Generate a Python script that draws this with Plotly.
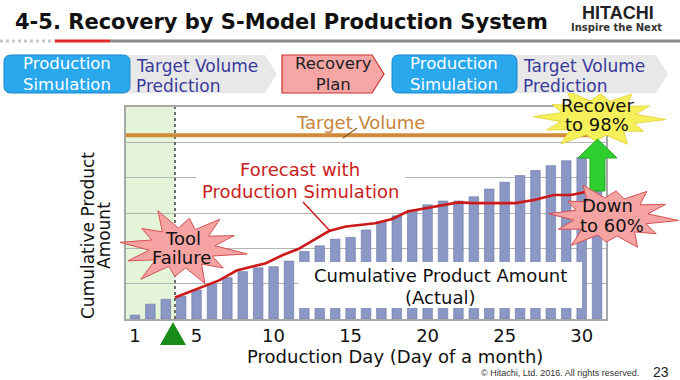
import math
import plotly.graph_objects as go

# ---------------- data ----------------
days = list(range(1, 32))
actual = [0.11, 0.42, 0.56, 0.65, 0.82, 0.98, 1.17, 1.34, 1.45, 1.48, 1.64,
          1.91, 2.07, 2.26, 2.31, 2.52, 2.76, 2.92, 3.08, 3.23, 3.34, 3.34,
          3.46, 3.68, 3.87, 4.06, 4.20, 4.34, 4.48, 4.57, 4.72]
forecast_days = [3.6, 4.8, 6.5, 7.6, 9.5, 10.6, 11.6, 13.6, 14.7, 16.6, 17.7,
                 18.7, 19.8, 20.9, 22.0, 23.0, 25.7, 26.9, 28.2, 29.3, 30.4]
forecast = [0.61, 0.82, 1.10, 1.37, 1.58, 1.81, 1.98, 2.49, 2.62, 2.71, 2.83,
            3.04, 3.13, 3.23, 3.30, 3.28, 3.28, 3.37, 3.51, 3.51, 3.61]
target_volume = 5.2
failure_day = 3.6
tick_days = [1, 5, 10, 15, 20, 25, 30]
tick_labels = ["1", "5", "10", "15", "20", "25", "30"]

# ---------------- geometry helpers ----------------
W, H = 680, 380
L, R, T, B = 126, 606, 107, 319
FONT = "DejaVu Sans"


def px(x):
    return (x - L) / (R - L)


def py(y):
    return (B - y) / (B - T)


def poly(points):
    return "M " + " L ".join(f"{px(x):.4f},{py(y):.4f}" for x, y in points) + " Z"


def rrect(x0, y0, x1, y1, r):
    P = lambda x, y: f"{px(x):.4f},{py(y):.4f}"
    return (f"M {P(x0 + r, y0)} L {P(x1 - r, y0)} Q {P(x1, y0)} {P(x1, y0 + r)} "
            f"L {P(x1, y1 - r)} Q {P(x1, y1)} {P(x1 - r, y1)} "
            f"L {P(x0 + r, y1)} Q {P(x0, y1)} {P(x0, y1 - r)} "
            f"L {P(x0, y0 + r)} Q {P(x0, y0)} {P(x0 + r, y0)} Z")


def star(cx, cy, rx, ry, mults, inner=0.5, start=0.0):
    n = len(mults)
    pts = []
    for i in range(2 * n):
        a = start + math.pi * i / n
        r = mults[i // 2] if i % 2 == 0 else inner
        pts.append((cx + rx * r * math.cos(a), cy + ry * r * math.sin(a)))
    return pts


fig = go.Figure()

fig.add_trace(go.Bar(
    x=days, y=actual, width=0.62,
    marker=dict(color="#8b97c4", line=dict(color="#6a76a4", width=0.6)),
    hoverinfo="skip"))

fig.add_trace(go.Scatter(
    x=forecast_days, y=forecast, mode="lines",
    line=dict(color="#cc1a1a", width=2.6), hoverinfo="skip"))

shapes = []
# failure shaded region (below gridlines)
shapes.append(dict(type="rect", xref="x", yref="paper", x0=0.42, x1=failure_day,
                   y0=0, y1=1, fillcolor="#e3f4d8", line=dict(width=0), layer="below"))
# dotted failure line
shapes.append(dict(type="line", xref="x", yref="paper", x0=failure_day, x1=failure_day,
                   y0=0, y1=1, line=dict(color="#333333", width=1.4, dash="dot"), layer="above"))
# target volume line
shapes.append(dict(type="line", xref="paper", yref="y", x0=0, x1=px(594),
                   y0=target_volume, y1=target_volume,
                   line=dict(color="#d08a3a", width=4), layer="above"))
# pointer target
shapes.append(dict(type="line", xref="paper", yref="paper", x0=px(357), y0=py(128),
                   x1=px(343), y1=py(138), line=dict(color="#8a5a20", width=1.2), layer="above"))
# white box behind forecast text
shapes.append(dict(type="rect", xref="paper", yref="paper", x0=px(196), x1=px(405),
                   y0=py(200), y1=py(157), fillcolor="white", line=dict(width=0), layer="above"))
# pointer forecast
shapes.append(dict(type="line", xref="paper", yref="paper", x0=px(303), y0=py(202),
                   x1=px(330), y1=py(231), line=dict(color="#cc1a1a", width=1.5), layer="above"))
# white box actual label
shapes.append(dict(type="rect", xref="paper", yref="paper", x0=px(298), x1=px(582),
                   y0=py(308), y1=py(262), fillcolor="white", line=dict(width=0), layer="above"))
# tool failure star
shapes.append(dict(type="path", xref="paper", yref="paper",
                   path=poly(star(182, 248, 66, 40,
                                  [1.0, 0.8, 0.95, 0.72, 1.0, 0.88, 0.95, 0.78, 1.0, 0.75, 0.92, 0.85],
                                  inner=0.5, start=0.15)),
                   fillcolor="#f6a3a3", line=dict(color="#d65050", width=1), layer="above"))
# recover star (yellow)
shapes.append(dict(type="path", xref="paper", yref="paper",
                   path=poly(star(598, 118, 68, 31,
                                  [1.0, 0.8, 0.95, 0.75, 1.0, 0.85, 0.95, 0.8, 1.0, 0.78, 0.92, 0.85],
                                  inner=0.56, start=0.05)),
                   fillcolor="#f6f05a", line=dict(color="#e8d840", width=1), layer="above"))
# green arrow
shapes.append(dict(type="path", xref="paper", yref="paper",
                   path=poly([(590, 191), (605, 191), (605, 158), (617, 158),
                              (597.5, 139), (578, 158), (590, 158)]),
                   fillcolor="#2fcf2f", line=dict(color="#22aa22", width=1), layer="above"))
# down star (pink)
shapes.append(dict(type="path", xref="paper", yref="paper",
                   path=poly(star(611, 217, 68, 35,
                                  [1.0, 0.82, 0.95, 0.72, 1.0, 0.85, 0.92, 0.78, 1.0, 0.75, 0.9, 0.88],
                                  inner=0.55, start=0.1)),
                   fillcolor="#f6a3a3", line=dict(color="#d65050", width=1), layer="above"))
# green triangle marker
shapes.append(dict(type="path", xref="paper", yref="paper",
                   path=poly([(173, 322), (186, 345), (160, 345)]),
                   fillcolor="#1a8c1a", line=dict(width=0), layer="above"))

# header underline
shapes.append(dict(type="line", xref="paper", yref="paper", x0=px(0), x1=px(55),
                   y0=py(41), y1=py(41), line=dict(color="#c8c8c8", width=3, dash="dot")))
shapes.append(dict(type="line", xref="paper", yref="paper", x0=px(110), x1=px(680),
                   y0=py(41), y1=py(41), line=dict(color="#8c8c8c", width=3)))
shapes.append(dict(type="line", xref="paper", yref="paper", x0=px(55), x1=px(110),
                   y0=py(41), y1=py(41), line=dict(color="#e02a2a", width=3)))

# flow row
shapes.append(dict(type="path", xref="paper", yref="paper",
                   path=poly([(120, 55), (265, 55), (277, 74), (265, 93), (120, 93)]),
                   fillcolor="#e8e8e8", line=dict(width=0)))
shapes.append(dict(type="path", xref="paper", yref="paper",
                   path=poly([(510, 55), (656, 55), (668, 74), (656, 93), (510, 93)]),
                   fillcolor="#e8e8e8", line=dict(width=0)))
shapes.append(dict(type="path", xref="paper", yref="paper",
                   path=poly([(282, 55), (372, 55), (384, 74), (372, 93), (282, 93)]),
                   fillcolor="#f7a6a6", line=dict(color="#c83030", width=1.2)))
shapes.append(dict(type="path", xref="paper", yref="paper", path=rrect(4, 55, 130, 93, 7),
                   fillcolor="#2aa8ee", line=dict(color="#1b86c8", width=1)))
shapes.append(dict(type="path", xref="paper", yref="paper", path=rrect(392, 55, 517, 93, 7),
                   fillcolor="#2aa8ee", line=dict(color="#1b86c8", width=1)))

fig.update_layout(shapes=shapes)


def txt(s, x, y, size, color="#111111", anchor="center", family=FONT, angle=0):
    fig.add_annotation(text=s, x=px(x), y=py(y), xref="paper", yref="paper",
                       xanchor=anchor, yanchor="middle", showarrow=False,
                       textangle=angle, borderpad=0,
                       font=dict(family=family, size=size, color=color))


# header
txt("<b>4-5. Recovery by S-Model Production System</b>", 14, 22, 21, "#111111", "left")
txt("<b>HITACHI</b>", 618, 13, 18, "#222222", family="Liberation Sans")
txt("<b>Inspire the Next</b>", 616, 28, 10, "#333333")

# flow texts
txt("Production<br>Simulation", 67, 74, 16.5, "white")
txt("Target Volume", 135, 66, 17, "#3a3a9c", "left")
txt("Prediction", 135, 86, 17, "#3a3a9c", "left")
txt("Recovery<br>Plan", 333, 74, 16.5, "#222222")
txt("Production<br>Simulation", 454, 74, 16.5, "white")
txt("Target Volume", 522, 66, 17, "#3a3a9c", "left")
txt("Prediction", 522, 86, 17, "#3a3a9c", "left")

# chart labels
txt("Target Volume", 360, 122, 18, "#c8843a")
txt("Forecast with", 300, 169, 18, "#cc2020")
txt("Production Simulation", 300, 191, 18, "#cc2020")
txt("Cumulative Product Amount", 440, 275, 18, "#111111")
txt("(Actual)", 440, 297, 18, "#111111")
txt("Tool", 183, 238, 18, "#111111")
txt("Failure", 181, 257, 18, "#111111")
txt("Recover", 597, 106, 18, "#111111")
txt("to 98%", 597, 124, 18, "#111111")
txt("Down", 607, 205, 18, "#111111")
txt("to 60%", 612, 225, 18, "#111111")

# axis titles
txt("Cumulative Product", 88, 236, 17, "#111111", angle=-90)
txt("Amount", 104, 236, 17, "#111111", angle=-90)
txt("Production Day (Day of a month)", 395, 356, 18, "#111111")

# footer
txt("© Hitachi, Ltd. 2016. All rights reserved.", 640, 373, 9, "#333333", "right",
    family="Liberation Sans")
txt("23", 661, 372, 14, "#222222", family="Liberation Sans")

fig.update_layout(
    width=W, height=H,
    margin=dict(l=L, r=W - R, t=T, b=H - B, pad=0),
    paper_bgcolor="white", plot_bgcolor="white",
    showlegend=False,
    xaxis=dict(range=[0.42, 31.58], tickvals=tick_days, ticktext=tick_labels,
               showgrid=False, zeroline=False, showline=True, linecolor="#a8a8a8",
               linewidth=1.5, mirror=True, ticks="",
               tickfont=dict(family=FONT, size=18, color="#111111")),
    yaxis=dict(range=[0, 6], dtick=1, showticklabels=False, showgrid=True,
               gridcolor="#b4b4b4", gridwidth=1, zeroline=False, showline=True,
               linecolor="#a8a8a8", linewidth=1.5, mirror=True, ticks=""),
)

fig.write_html("out.html", config={"displayModeBar": False},
               post_script="document.body.style.margin='0';document.body.style.overflow='hidden';")
